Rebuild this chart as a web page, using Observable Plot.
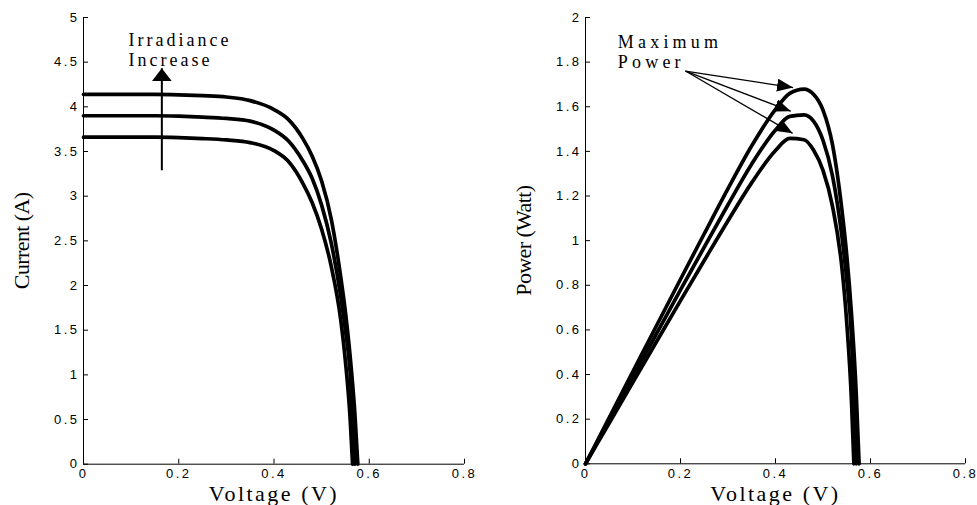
<!DOCTYPE html>
<html>
<head>
<meta charset="utf-8">
<script src="https://cdn.jsdelivr.net/npm/d3@7"></script>
<script src="https://cdn.jsdelivr.net/npm/@observablehq/plot@0.6"></script>
<style>
  html, body { margin: 0; padding: 0; background: #fff; }
  #wrap { display: flex; width: 977px; height: 505px; overflow: hidden; }
  #wrap svg { flex: none; max-width: none; }
  g[aria-label="x-axis tick label"] text, g[aria-label="y-axis tick label"] text { letter-spacing: 2.5px; }
</style>
</head>
<body>
<div id="wrap"></div>
<script>
// ---------- data ----------
const voltageGrid = [0, 0.05, 0.1, 0.15, 0.2, 0.25, 0.3, 0.35, 0.4, 0.43, 0.46, 0.48, 0.5, 0.52, 0.54, 0.55, 0.56];

// highest irradiance
const vHigh = [...voltageGrid, 0.57, 0.576];
const iHigh = [4.14, 4.14, 4.14, 4.14, 4.135, 4.125, 4.11, 4.07, 3.97, 3.86, 3.65, 3.45, 3.17, 2.75, 2.10, 1.70, 1.20, 0.55, 0];
const pHigh = [0, 0.207, 0.414, 0.621, 0.827, 1.031, 1.233, 1.425, 1.588, 1.66, 1.679, 1.656, 1.585, 1.43, 1.134, 0.935, 0.672, 0.314, 0];

// middle irradiance
const vMid = [...voltageGrid, 0.565, 0.570];
const iMid = [3.90, 3.90, 3.90, 3.90, 3.895, 3.885, 3.87, 3.84, 3.74, 3.62, 3.40, 3.20, 2.90, 2.48, 1.88, 1.50, 1.02, 0.55, 0];
const pMid = [0, 0.195, 0.39, 0.585, 0.779, 0.971, 1.161, 1.344, 1.496, 1.557, 1.564, 1.536, 1.45, 1.29, 1.015, 0.825, 0.571, 0.311, 0];

// lowest irradiance
const vLow = [...voltageGrid, 0.565];
const iLow = [3.66, 3.66, 3.66, 3.66, 3.655, 3.645, 3.63, 3.60, 3.51, 3.39, 3.15, 2.93, 2.63, 2.22, 1.62, 1.15, 0.50, 0];
const pLow = [0, 0.183, 0.366, 0.549, 0.731, 0.911, 1.089, 1.26, 1.404, 1.458, 1.452, 1.406, 1.315, 1.154, 0.875, 0.633, 0.28, 0];

const seriesNames = ["low", "mid", "high"];

// ticks
const voltageTicks = [0, 0.2, 0.4, 0.6, 0.8];
const currentTicks = [0, 0.5, 1, 1.5, 2, 2.5, 3, 3.5, 4, 4.5, 5];
const powerTicks = [0, 0.2, 0.4, 0.6, 0.8, 1, 1.2, 1.4, 1.6, 1.8, 2];

// labels
const xTitle = ["Voltage (V)"];
const currentTitle = ["Current (A)"];
const powerTitle = ["Power (Watt)"];

// annotations
const irrNoteText = ["Irradiance\nIncrease"];
const irrNoteV = [0.0945];
const irrNoteI = [4.844];
const irrArrowV = [0.1645];
const irrArrowFromI = [3.29];
const irrArrowToI = [4.432];

const mppNoteText = ["Maximum\nPower"];
const mppNoteV = [0.068];
const mppNoteP = [1.926];
const mppArrowFromV = [0.2105, 0.2105, 0.2105];
const mppArrowFromP = [1.76, 1.76, 1.76];
const mppArrowToV = [0.437, 0.432, 0.436];
const mppArrowToP = [1.686, 1.58, 1.481];

// ---------- build tables ----------
const series = [
  {name: seriesNames[0], v: vLow, i: iLow, p: pLow},
  {name: seriesNames[1], v: vMid, i: iMid, p: pMid},
  {name: seriesNames[2], v: vHigh, i: iHigh, p: pHigh}
];
const rows = series.flatMap(s => s.v.map((v, k) => ({s: s.name, v, i: s.i[k], p: s.p[k]})));
const irrNote = irrNoteText.map((t, k) => ({t, v: irrNoteV[k], y: irrNoteI[k]}));
const irrArrow = irrArrowV.map((v, k) => ({v, y1: irrArrowFromI[k], y2: irrArrowToI[k]}));
const mppNote = mppNoteText.map((t, k) => ({t, v: mppNoteV[k], y: mppNoteP[k]}));
const mppArrows = mppArrowToV.map((v, k) => ({x1: mppArrowFromV[k], y1: mppArrowFromP[k], x2: v, y2: mppArrowToP[k]}));

const fmt = d => d3.format("~g")(d);
const serif = "Liberation Serif, Times New Roman, Times, serif";
const sans = "Liberation Sans, Arial, Helvetica, sans-serif";

function arrowHead(len, wid) {
  return (color, context) => {
    const ns = "http://www.w3.org/2000/svg";
    const doc = (context && context.document) || document;
    const m = doc.createElementNS(ns, "marker");
    m.setAttribute("viewBox", `0 ${-wid / 2} ${len} ${wid}`);
    m.setAttribute("markerUnits", "userSpaceOnUse");
    m.setAttribute("markerWidth", len);
    m.setAttribute("markerHeight", wid);
    m.setAttribute("refX", len);
    m.setAttribute("refY", 0);
    m.setAttribute("orient", "auto");
    const p = doc.createElementNS(ns, "path");
    p.setAttribute("d", `M0,${-wid / 2}L${len},0L0,${wid / 2}Z`);
    p.setAttribute("fill", color === "currentColor" ? "black" : color);
    p.setAttribute("stroke", "none");
    m.appendChild(p);
    return m;
  };
}

const common = {
  height: 505,
  marginTop: 17,
  style: {fontFamily: sans, fontSize: "13px", color: "black", background: "white"}
};

function axes(yTicks) {
  return [
    Plot.ruleY([0], {stroke: "black", strokeWidth: 1}),
    Plot.ruleX([0], {stroke: "black", strokeWidth: 1}),
    Plot.axisX({ticks: voltageTicks, tickSize: -5, tickPadding: 10, tickFormat: fmt, label: null, stroke: "black", fill: "black"}),
    Plot.axisY({ticks: yTicks, tickSize: -5, tickPadding: 9, tickFormat: fmt, label: null, stroke: "black", fill: "black"})
  ];
}

function titles(yTitle) {
  return [
    Plot.text(xTitle, {frameAnchor: "bottom", textAnchor: "middle", lineAnchor: "middle", dy: 30, fontFamily: serif, fontSize: 22, fill: "black"}),
    Plot.text(yTitle, {frameAnchor: "left", textAnchor: "middle", lineAnchor: "middle", dx: -62, rotate: -90, fontFamily: serif, fontSize: 22, fill: "black"})
  ];
}

const left = Plot.plot({
  ...common,
  width: 490,
  marginLeft: 83,
  marginRight: 26,
  marginBottom: 41.3,
  x: {domain: [0, 0.8]},
  y: {domain: [0, 5]},
  marks: [
    ...axes(currentTicks),
    Plot.line(rows, {x: "v", y: "i", z: "s", stroke: "black", strokeWidth: 3.7, strokeLinejoin: "round", curve: "monotone-x"}),
    Plot.link(irrArrow, {x1: "v", x2: "v", y1: "y1", y2: "y2", stroke: "black", strokeWidth: 2, markerEnd: arrowHead(13, 20)}),
    Plot.text(irrNote, {x: "v", y: "y", text: "t", textAnchor: "start", lineAnchor: "top", lineHeight: 20 / 18, fontFamily: serif, fontSize: 18, fill: "black"}),
    ...titles(currentTitle)
  ]
});

const right = Plot.plot({
  ...common,
  width: 487,
  marginLeft: 95,
  marginRight: 12,
  marginBottom: 41.7,
  x: {domain: [0, 0.8]},
  y: {domain: [0, 2]},
  marks: [
    ...axes(powerTicks),
    Plot.line(rows, {x: "v", y: "p", z: "s", stroke: "black", strokeWidth: 3.7, strokeLinejoin: "round", curve: "monotone-x"}),
    Plot.link(mppArrows, {x1: "x1", y1: "y1", x2: "x2", y2: "y2", stroke: "black", strokeWidth: 1.3, markerEnd: arrowHead(16, 13)}),
    Plot.text(mppNote, {x: "v", y: "y", text: "t", textAnchor: "start", lineAnchor: "top", lineHeight: 20 / 18, fontFamily: serif, fontSize: 18, fill: "black"}),
    ...titles(powerTitle)
  ]
});

// letter spacing to mimic the horizontally stretched rendering of the original
function spaceText(svg, str, px) {
  const key = str.replace(/\s/g, "");
  d3.select(svg).selectAll("text").each(function () {
    if (this.textContent.replace(/\s/g, "") === key) this.style.letterSpacing = px + "px";
  });
}
spaceText(left, xTitle[0], 2.5);
spaceText(right, xTitle[0], 2.5);
spaceText(left, currentTitle[0], -0.6);
spaceText(right, powerTitle[0], -0.6);
spaceText(left, irrNoteText[0], 3);
spaceText(right, mppNoteText[0], 4.2);

document.getElementById("wrap").append(left, right);
</script>
</body>
</html>
